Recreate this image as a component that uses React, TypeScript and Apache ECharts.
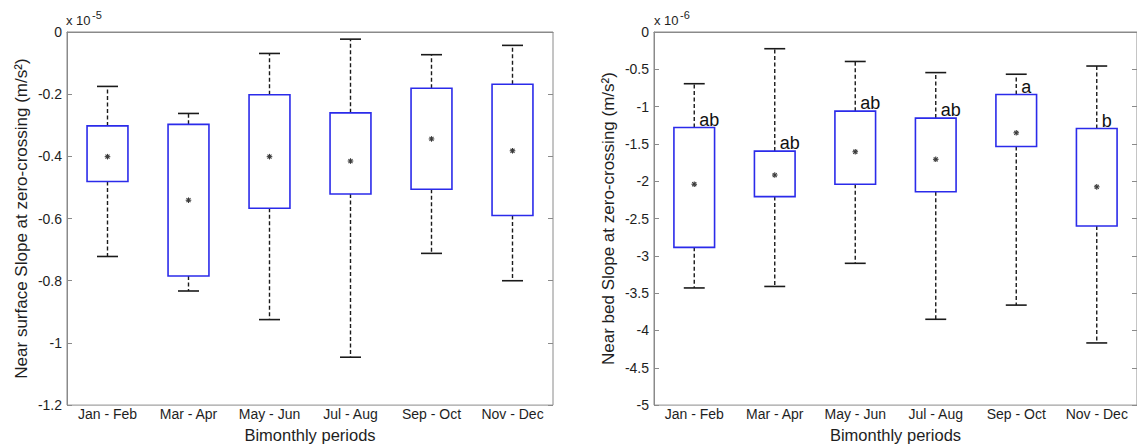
import React, { useEffect, useRef } from "react";
import * as echarts from "echarts";

const periods = ["Jan - Feb", "Mar - Apr", "May - Jun", "Jul - Aug", "Sep - Oct", "Nov - Dec"];

// Near surface slope at zero-crossing (x 1e-5 m/s^2)
const surfaceLowerWhisker = [-0.722, -0.833, -0.925, -1.046, -0.712, -0.8];
const surfaceBoxBottom = [-0.481, -0.785, -0.567, -0.521, -0.506, -0.59];
const surfaceBoxTop = [-0.302, -0.297, -0.202, -0.26, -0.181, -0.168];
const surfaceUpperWhisker = [-0.175, -0.262, -0.069, -0.023, -0.073, -0.043];
const surfaceMean = [-0.401, -0.541, -0.401, -0.415, -0.344, -0.382];

// Near bed slope at zero-crossing (x 1e-6 m/s^2)
const bedLowerWhisker = [-3.43, -3.41, -3.1, -3.85, -3.66, -4.167];
const bedBoxBottom = [-2.886, -2.206, -2.04, -2.14, -1.535, -2.6];
const bedBoxTop = [-1.28, -1.596, -1.061, -1.154, -0.838, -1.294];
const bedUpperWhisker = [-0.693, -0.224, -0.395, -0.544, -0.566, -0.456];
const bedMean = [-2.04, -1.917, -1.605, -1.706, -1.351, -2.075];
const bedLetters = ["ab", "ab", "ab", "ab", "a", "b"];

const FONT = '"Liberation Sans", Arial, Helvetica, sans-serif';
const FRAME = "#8a8a8a";
const TEXT = "#1e1e1e";

function makeRender(letters: string[] | null) {
  return (params: any, api: any) => {
    const idx = api.value(0);
    const lo = api.coord([idx, api.value(1)]);
    const bb = api.coord([idx, api.value(2)]);
    const bt = api.coord([idx, api.value(3)]);
    const hi = api.coord([idx, api.value(4)]);
    const mn = api.coord([idx, api.value(5)]);
    const band = api.size([1, 0])[0];
    const cx = lo[0];
    const bw = band * 0.505;
    const cw = band * 0.26;
    const whisk = { stroke: "#1a1a1a", lineWidth: 1.4, lineDash: [4, 2.5], fill: null };
    const cap = { stroke: "#1a1a1a", lineWidth: 1.6, fill: null };
    const s = 2.8;
    const d = s * 0.72;
    const ast = { stroke: "#3a3a3a", lineWidth: 1.1, fill: null };
    const children: any[] = [
      { type: "line", shape: { x1: cx, y1: bt[1], x2: cx, y2: hi[1] }, style: whisk },
      { type: "line", shape: { x1: cx, y1: bb[1], x2: cx, y2: lo[1] }, style: whisk },
      { type: "line", shape: { x1: cx - cw / 2, y1: hi[1], x2: cx + cw / 2, y2: hi[1] }, style: cap },
      { type: "line", shape: { x1: cx - cw / 2, y1: lo[1], x2: cx + cw / 2, y2: lo[1] }, style: cap },
      {
        type: "rect",
        shape: { x: cx - bw / 2, y: bt[1], width: bw, height: bb[1] - bt[1] },
        style: { fill: "#ffffff", stroke: "#2b2bea", lineWidth: 1.6 },
      },
      { type: "line", shape: { x1: mn[0] - s, y1: mn[1], x2: mn[0] + s, y2: mn[1] }, style: ast },
      { type: "line", shape: { x1: mn[0], y1: mn[1] - s, x2: mn[0], y2: mn[1] + s }, style: ast },
      { type: "line", shape: { x1: mn[0] - d, y1: mn[1] - d, x2: mn[0] + d, y2: mn[1] + d }, style: ast },
      { type: "line", shape: { x1: mn[0] - d, y1: mn[1] + d, x2: mn[0] + d, y2: mn[1] - d }, style: ast },
    ];
    if (letters) {
      children.push({
        type: "text",
        x: cx + 5,
        y: bt[1] + 1,
        style: {
          text: letters[params.dataIndex],
          fill: "#111",
          font: `18px ${FONT}`,
          align: "left",
          verticalAlign: "bottom",
        },
      });
    }
    return { type: "group", children };
  };
}

function yAxes(gridIndex: number, min: number, interval: number, name: string) {
  const common = {
    gridIndex,
    type: "value",
    min,
    max: 0,
    interval,
    splitLine: { show: false },
    axisTick: { show: true, inside: true, length: 5, lineStyle: { color: FRAME } },
  };
  return [
    {
      ...common,
      position: "left",
      axisLine: { show: true, lineStyle: { color: FRAME } },
      axisLabel: { fontSize: 14, color: TEXT, margin: 5, fontFamily: FONT },
      name,
      nameLocation: "middle",
      nameRotate: 90,
      nameGap: 37,
      nameTextStyle: { fontSize: 17, color: TEXT, fontFamily: FONT },
    },
    {
      ...common,
      position: "right",
      axisLine: { show: false },
      axisLabel: { show: false },
    },
  ];
}

function xAxis(gridIndex: number) {
  return {
    gridIndex,
    type: "category",
    data: periods,
    axisLine: { show: true, lineStyle: { color: FRAME } },
    axisTick: { show: false },
    axisLabel: { fontSize: 14, color: TEXT, margin: 2, fontFamily: FONT, interval: 0 },
    splitLine: { show: false },
    name: "Bimonthly periods",
    nameLocation: "middle",
    nameGap: 16,
    nameTextStyle: { fontSize: 16.5, color: TEXT, fontFamily: FONT },
  };
}

export default function App() {
  const ref = useRef<HTMLDivElement>(null);
  useEffect(() => {
    if (!ref.current) return;
    const chart = echarts.init(ref.current, undefined, { renderer: "svg" });
    const surfaceData = periods.map((_, i) => [
      i,
      surfaceLowerWhisker[i],
      surfaceBoxBottom[i],
      surfaceBoxTop[i],
      surfaceUpperWhisker[i],
      surfaceMean[i],
    ]);
    const bedData = periods.map((_, i) => [
      i,
      bedLowerWhisker[i],
      bedBoxBottom[i],
      bedBoxTop[i],
      bedUpperWhisker[i],
      bedMean[i],
    ]);
    const grids = [
      { left: 67, top: 32, width: 486, height: 380 },
      { left: 654, top: 32, width: 486, height: 380 },
    ];
    chart.setOption({
      animation: false,
      backgroundColor: "#ffffff",
      textStyle: { fontFamily: FONT },
      grid: grids.map((g) => ({
        ...g,
        show: true,
        borderColor: FRAME,
        borderWidth: 1,
        backgroundColor: "transparent",
      })),
      xAxis: [xAxis(0), xAxis(1)],
      yAxis: [
        ...yAxes(0, -1.2, 0.2, "Near surface Slope at zero-crossing (m/s²)"),
        ...yAxes(1, -5, 0.5, "Near bed Slope at zero-crossing (m/s²)"),
      ],
      graphic: [
        { type: "text", left: 66, top: 14, style: { text: "x 10", font: `13px ${FONT}`, fill: TEXT } },
        { type: "text", left: 92, top: 9, style: { text: "-5", font: `11px ${FONT}`, fill: TEXT } },
        { type: "text", left: 654, top: 14, style: { text: "x 10", font: `13px ${FONT}`, fill: TEXT } },
        { type: "text", left: 680, top: 9, style: { text: "-6", font: `11px ${FONT}`, fill: TEXT } },
      ],
      series: [
        {
          type: "custom",
          xAxisIndex: 0,
          yAxisIndex: 0,
          data: surfaceData,
          encode: { x: 0, y: [1, 2, 3, 4, 5] },
          renderItem: makeRender(null),
        },
        {
          type: "custom",
          xAxisIndex: 1,
          yAxisIndex: 2,
          data: bedData,
          encode: { x: 0, y: [1, 2, 3, 4, 5] },
          renderItem: makeRender(bedLetters),
        },
      ],
    });
    return () => chart.dispose();
  }, []);
  return (
    <div
      ref={ref}
      style={{ position: "absolute", left: 0, top: 0, width: 1137, height: 448 }}
    />
  );
}
